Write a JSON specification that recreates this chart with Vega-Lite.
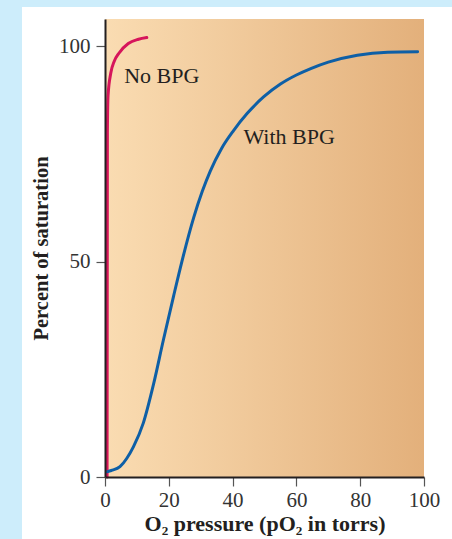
{
  "$schema": "https://vega.github.io/schema/vega-lite/v6.json",
  "width": 319,
  "height": 458,
  "autosize": {"type": "none"},
  "padding": {"left": 105, "top": 19, "right": 28, "bottom": 62},
  "background": "#cdedfb",
  "config": {
    "view": {"stroke": null},
    "axis": {
      "grid": false,
      "labelFlush": false,
      "domainColor": "#231f20",
      "domainWidth": 2,
      "tickColor": "#555555",
      "tickWidth": 1.2,
      "tickSize": 9,
      "labelFont": "Liberation Serif",
      "labelFontSize": 21,
      "labelColor": "#333333",
      "titleFont": "Liberation Serif",
      "titleFontSize": 20,
      "titleFontWeight": "bold",
      "titleColor": "#231f20"
    }
  },
  "datasets": {
    "curves": [
      {"series": "No BPG", "pO2": 0.65, "saturation": 0},
      {"series": "No BPG", "pO2": 0.7, "saturation": 40},
      {"series": "No BPG", "pO2": 0.75, "saturation": 80},
      {"series": "No BPG", "pO2": 0.95, "saturation": 88.5},
      {"series": "No BPG", "pO2": 1.8, "saturation": 93.7},
      {"series": "No BPG", "pO2": 2.9, "saturation": 96.5},
      {"series": "No BPG", "pO2": 4.3, "saturation": 98.3},
      {"series": "No BPG", "pO2": 7.3, "saturation": 100.6},
      {"series": "No BPG", "pO2": 10.5, "saturation": 101.6},
      {"series": "No BPG", "pO2": 13.1, "saturation": 102},
      {"series": "With BPG", "pO2": 0.6, "saturation": 1.2},
      {"series": "With BPG", "pO2": 2.0, "saturation": 1.5},
      {"series": "With BPG", "pO2": 4.7, "saturation": 2.4},
      {"series": "With BPG", "pO2": 6.8, "saturation": 4.3},
      {"series": "With BPG", "pO2": 8.9, "saturation": 7.0},
      {"series": "With BPG", "pO2": 12.0, "saturation": 12.5},
      {"series": "With BPG", "pO2": 15.2, "saturation": 21.5},
      {"series": "With BPG", "pO2": 18.3, "saturation": 31.8},
      {"series": "With BPG", "pO2": 21.5, "saturation": 42.0},
      {"series": "With BPG", "pO2": 24.1, "saturation": 50.0},
      {"series": "With BPG", "pO2": 27.8, "saturation": 60.2},
      {"series": "With BPG", "pO2": 30.5, "saturation": 66.3},
      {"series": "With BPG", "pO2": 33.0, "saturation": 71.0},
      {"series": "With BPG", "pO2": 36.5, "saturation": 76.2},
      {"series": "With BPG", "pO2": 40.3, "saturation": 80.4},
      {"series": "With BPG", "pO2": 44.6, "saturation": 84.4},
      {"series": "With BPG", "pO2": 49.7, "saturation": 88.2},
      {"series": "With BPG", "pO2": 55.0, "saturation": 91.2},
      {"series": "With BPG", "pO2": 60.0, "saturation": 93.3},
      {"series": "With BPG", "pO2": 64.5, "saturation": 94.8},
      {"series": "With BPG", "pO2": 70.0, "saturation": 96.3},
      {"series": "With BPG", "pO2": 79.1, "saturation": 97.9},
      {"series": "With BPG", "pO2": 88.6, "saturation": 98.6},
      {"series": "With BPG", "pO2": 98.0, "saturation": 98.7}
    ],
    "labels": [
      {"label": "No BPG", "pO2": 6.0, "saturation": 91.4},
      {"label": "With BPG", "pO2": 43.4, "saturation": 77.4}
    ]
  },
  "layer": [
    {
      "data": {"values": [{}]},
      "mark": {"type": "rect", "fill": "#ffffff", "clip": false},
      "encoding": {
        "x": {"value": -83},
        "x2": {"value": 347},
        "y": {"value": -12},
        "y2": {"value": 520}
      }
    },
    {
      "data": {"values": [{}]},
      "mark": {
        "type": "rect",
        "color": {
          "gradient": "linear",
          "x1": 0, "y1": 0, "x2": 1, "y2": 0,
          "stops": [
            {"offset": 0, "color": "#fadcb2"},
            {"offset": 1, "color": "#e3b07b"}
          ]
        }
      },
      "encoding": {
        "x": {"value": 0},
        "x2": {"value": "width"},
        "y": {"value": 0},
        "y2": {"value": "height"}
      }
    },
    {
      "data": {"name": "curves"},
      "mark": {"type": "line", "interpolate": "monotone", "strokeWidth": 3, "strokeCap": "round"},
      "encoding": {
        "x": {
          "field": "pO2",
          "type": "quantitative",
          "scale": {"domain": [0, 100], "nice": false},
          "axis": {
            "zindex": 2,
            "values": [0, 20, 40, 60, 80, 100],
            "title": "O₂ pressure (pO₂ in torrs)",
            "titleFontSize": 22,
            "labelPadding": 3,
            "titlePadding": 3
          }
        },
        "y": {
          "field": "saturation",
          "type": "quantitative",
          "scale": {"domain": [0, 106.3], "nice": false},
          "axis": {
            "zindex": 2,
            "values": [0, 50, 100],
            "title": "Percent of saturation",
            "titleFontSize": 20.5,
            "labelPadding": 6,
            "titlePadding": 7
          }
        },
        "color": {
          "field": "series",
          "type": "nominal",
          "scale": {"domain": ["No BPG", "With BPG"], "range": ["#d6155b", "#0e5fa6"]},
          "legend": null
        }
      }
    },
    {
      "data": {"name": "labels"},
      "mark": {
        "type": "text",
        "align": "left",
        "baseline": "alphabetic",
        "font": "Liberation Serif",
        "fontSize": 22,
        "color": "#231f20"
      },
      "encoding": {
        "x": {"field": "pO2", "type": "quantitative", "axis": {"zindex": 2}},
        "y": {"field": "saturation", "type": "quantitative", "axis": {"zindex": 2}},
        "text": {"field": "label"}
      }
    }
  ]
}
